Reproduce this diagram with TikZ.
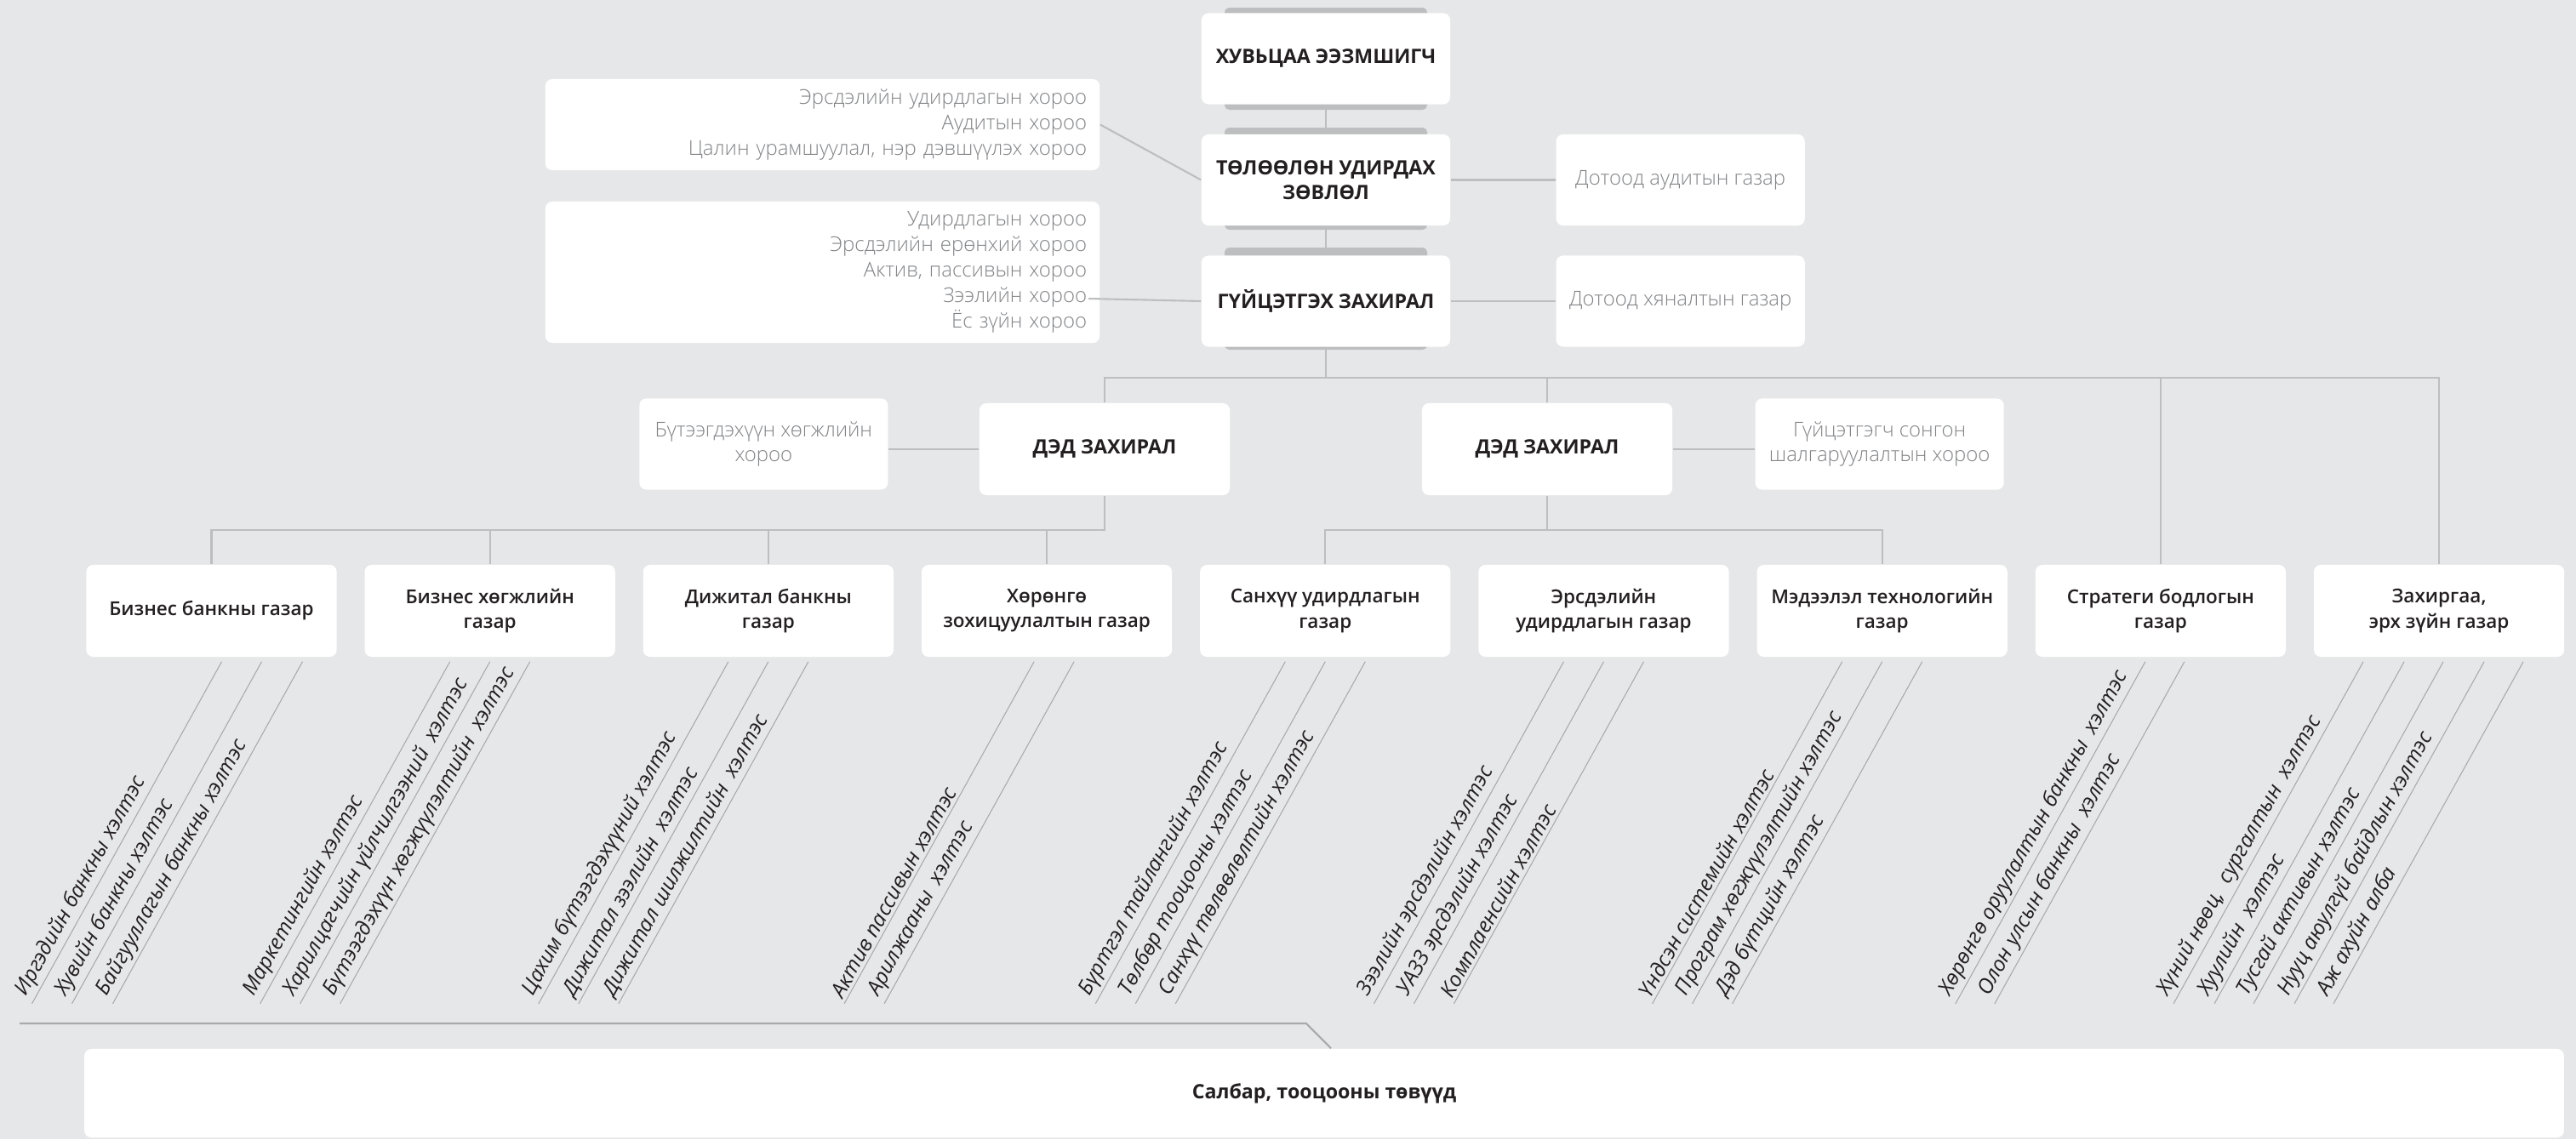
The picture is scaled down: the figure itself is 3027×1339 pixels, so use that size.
\documentclass[tikz,border=0pt]{standalone}
\usepackage{fontspec}
\setmainfont{Open Sans}
\newfontfamily\lightFont{Open Sans Light}
\newfontfamily\semiFont{Open Sans Semibold}
\usepackage{xcolor}
\definecolor{pageBg}{HTML}{E6E7E8}
\definecolor{tabGray}{HTML}{BCBEC0}
\definecolor{linkGray}{HTML}{BCBEC0}
\definecolor{thinGray}{HTML}{A7A9AC}
\definecolor{mainDark}{HTML}{231F20}
\definecolor{softText}{HTML}{808285}
\usepackage{tikz}
\usetikzlibrary{positioning,calc}
\tikzset{%
  topBox/.style={%
    rectangle,
    rounded corners=2.3pt,
    fill=white,
    text=mainDark,
    font=\bfseries\fontsize{6.6}{8.3}\selectfont,
    minimum width=2.92cm,
    minimum height=1.07cm,
    inner sep=2pt,
    align=center
  },
  noteBox/.style={%
    topBox,
    text=softText,
    font=\lightFont\fontsize{6.8}{8.5}\selectfont
  },
  listBox/.style={%
    noteBox,
    minimum width=6.51cm,
    text width=6.21cm,
    inner xsep=0.15cm,
    align=right
  },
  deptBox/.style={%
    topBox,
    minimum width=2.94cm,
    minimum height=1.08cm,
    font=\semiFont\fontsize{6.4}{8.3}\selectfont
  },
  tabBar/.style={fill=tabGray, rounded corners=1.5pt},
  linkLine/.style={draw=linkGray, line width=0.6pt},
  subLine/.style={draw=thinGray, line width=0.3pt},
  subText/.style={%
    anchor=south west,
    rotate=61,
    inner sep=1pt,
    text=mainDark,
    font=\itshape\fontsize{7}{8}\selectfont
  },
  feedLine/.style={draw=thinGray, line width=0.6pt}
}

\begin{document}
\begin{tikzpicture}[x=0.01cm, y=-0.01cm]
  \useasboundingbox (0,0) rectangle (3027,1339);
  \fill[pageBg] (0,0) rectangle (3027,1339);

  \foreach \yy in {69,210,351}
    \fill[tabBar] (1439,\yy-60) rectangle (1677,\yy+60);

  \node[topBox] (owner) at (1558,69) {ХУВЬЦАА ЭЭЗМШИГЧ};
  \node[topBox, below=0.34cm of owner] (board) {ТӨЛӨӨЛӨН УДИРДАХ\\ЗӨВЛӨЛ};
  \node[topBox, below=0.34cm of board] (ceo) {ГҮЙЦЭТГЭХ ЗАХИРАЛ};

  \node[listBox, minimum height=1.07cm] (comA) at (966.5,146.5) {Эрсдэлийн удирдлагын хороо\\Аудитын хороо\\Цалин урамшуулал, нэр дэвшүүлэх хороо};
  \node[listBox, minimum height=1.66cm] (comB) at (966.5,320) {Удирдлагын хороо\\Эрсдэлийн ерөнхий хороо\\Актив, пассивын хороо\\Зээлийн хороо\\Ёс зүйн хороо};
  \node[noteBox, right=1.23cm of board] (audit) {Дотоод аудитын газар};
  \node[noteBox, right=1.23cm of ceo] (control) {Дотоод хяналтын газар};
  \coordinate (zeelEnd) at (1279,351);

  \draw[linkLine] (owner) -- (board);
  \draw[linkLine] (board) -- (ceo);
  \draw[linkLine] (comA.east) -- (board.west);
  \draw[linkLine] (zeelEnd) -- (ceo.west);
  \draw[linkLine] (board) -- (audit);
  \draw[linkLine] (ceo) -- (control);

  \node[topBox, minimum width=2.94cm, minimum height=1.08cm] (dep1) at (1298,528) {ДЭД ЗАХИРАЛ};
  \node[topBox, minimum width=2.94cm, minimum height=1.08cm] (dep2) at (1818,528) {ДЭД ЗАХИРАЛ};
  \node[noteBox, left=1.06cm of dep1, yshift=0.06cm] (comC) {Бүтээгдэхүүн хөгжлийн\\хороо};
  \node[noteBox, right=0.96cm of dep2, yshift=0.06cm] (comD) {Гүйцэтгэгч сонгон\\шалгаруулалтын хороо};

  \draw[linkLine] (dep1.west) -- (dep1.west -| comC.east);
  \draw[linkLine] (dep2.east) -- (dep2.east -| comD.west);

  \node[deptBox] (b1) at (248.5,718) {Бизнес банкны газар};
  \node[deptBox, right=0.316cm of b1] (b2) {Бизнес хөгжлийн\\газар};
  \node[deptBox, right=0.316cm of b2] (b3) {Дижитал банкны\\газар};
  \node[deptBox, right=0.316cm of b3] (b4) {Хөрөнгө\\зохицуулалтын газар};
  \node[deptBox, right=0.316cm of b4] (b5) {Санхүү удирдлагын\\газар};
  \node[deptBox, right=0.316cm of b5] (b6) {Эрсдэлийн\\удирдлагын газар};
  \node[deptBox, right=0.316cm of b6] (b7) {Мэдээлэл технологийн\\газар};
  \node[deptBox, right=0.316cm of b7] (b8) {Стратеги бодлогын\\газар};
  \node[deptBox, right=0.316cm of b8] (b9) {Захиргаа,\\эрх зүйн газар};

  \coordinate (busTop) at (1558,444);
  \coordinate (busMid) at (0,623);
  \draw[linkLine] (ceo) -- (busTop);
  \draw[linkLine] (dep1.north) |- (busTop) -| (b9.north);
  \draw[linkLine] (dep2.north) -- (dep2.north |- busTop);
  \draw[linkLine] (b8.north) -- (b8.north |- busTop);
  \draw[linkLine] (dep1.south) |- (b1.north |- busMid) -- (b1.north);
  \foreach \b in {b2,b3,b4}
    \draw[linkLine] (\b.north) -- (\b.north |- busMid);
  \draw[linkLine] (dep2.south) |- (b5.north |- busMid) -- (b5.north);
  \draw[linkLine] (dep2.south) |- (b7.north |- busMid) -- (b7.north);

  \foreach \dx/\unitText in {12/Иргэдийн банкны хэлтэс, 59/Хувийн банкны хэлтэс, 107/Байгууллагын банкны хэлтэс}
    \draw[subLine] ($(b1.south)+(\dx,5)$) -- ++(-223,402) node[subText]{\unitText};
  \foreach \dx/\unitText in {-47/Маркетингийн хэлтэс, 0/Харилцагчийн үйлчилгээний\ \ хэлтэс, 47/Бүтээгдэхүүн хөгжүүлэлтийн\ \ хэлтэс}
    \draw[subLine] ($(b2.south)+(\dx,5)$) -- ++(-223,402) node[subText]{\unitText};
  \foreach \dx/\unitText in {-47/Цахим бүтээгдэхүүний хэлтэс, 0/Дижитал зээлийн\ \ хэлтэс, 47/Дижитал шилжилтийн\ \ хэлтэс}
    \draw[subLine] ($(b3.south)+(\dx,5)$) -- ++(-223,402) node[subText]{\unitText};
  \foreach \dx/\unitText in {-15/Актив пассивын хэлтэс, 32/Арилжааны\ \ хэлтэс}
    \draw[subLine] ($(b4.south)+(\dx,5)$) -- ++(-223,402) node[subText]{\unitText};
  \foreach \dx/\unitText in {-47/Бүртгэл тайлангийн хэлтэс, 0/Төлбөр тооцооны хэлтэс, 47/Санхүү төлөвлөлтийн хэлтэс}
    \draw[subLine] ($(b5.south)+(\dx,5)$) -- ++(-223,402) node[subText]{\unitText};
  \foreach \dx/\unitText in {-47/Зээлийн эрсдэлийн хэлтэс, 0/УАЗЗ эрсдэлийн хэлтэс, 47/Комплаенсийн хэлтэс}
    \draw[subLine] ($(b6.south)+(\dx,5)$) -- ++(-223,402) node[subText]{\unitText};
  \foreach \dx/\unitText in {-47/Үндсэн системийн хэлтэс, 0/Програм хөгжүүлэлтийн хэлтэс, 47/Дэд бүтцийн хэлтэс}
    \draw[subLine] ($(b7.south)+(\dx,5)$) -- ++(-223,402) node[subText]{\unitText};
  \foreach \dx/\unitText in {-18/Хөрөнгө оруулалтын банкны\ \ хэлтэс, 28/Олон улсын банкны\ \ хэлтэс}
    \draw[subLine] ($(b8.south)+(\dx,5)$) -- ++(-223,402) node[subText]{\unitText};
  \foreach \dx/\unitText in {-89/{Хүний нөөц,\ \ сургалтын\ \ хэлтэс}, -41/Хуулийн\ \ хэлтэс, 5/Тусгай активын хэлтэс, 53/Нууц аюулгүй байдлын хэлтэс, 99/Аж ахуйн алба}
    \draw[subLine] ($(b9.south)+(\dx,5)$) -- ++(-223,402) node[subText]{\unitText};

  \node[topBox, minimum width=29.12cm, minimum height=1.04cm] (branch) at (1556,1285) {Салбар, тооцооны төвүүд};
  \coordinate (feedStart) at (23,1203);
  \coordinate (feedBend) at (1535,1203);
  \draw[feedLine] (feedStart) -- (feedBend) -- ([xshift=0.08cm]branch.north);
\end{tikzpicture}
\end{document}
